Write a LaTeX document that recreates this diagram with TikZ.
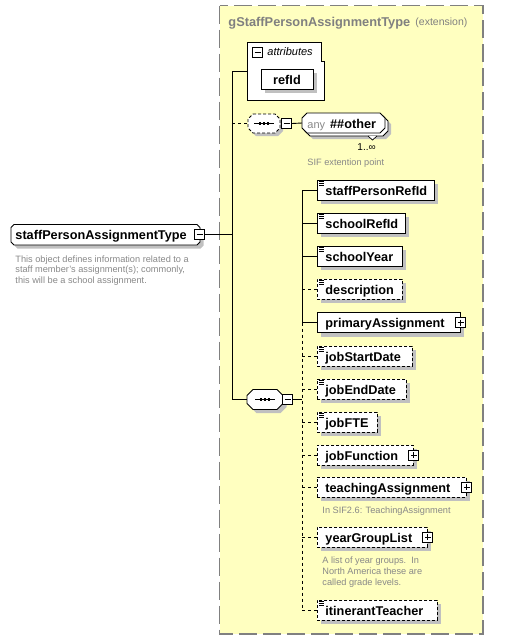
\documentclass[tikz,border=0pt]{standalone}
\usepackage{fontspec}
\setmainfont{Liberation Sans}
\usetikzlibrary{calc,shadows}
\definecolor{bgyellow}{RGB}{255,255,192}
\definecolor{shadowgray}{RGB}{192,192,192}
\definecolor{titlegray}{RGB}{128,128,128}
\definecolor{notegray}{RGB}{136,136,136}
\newcommand\fElem{\fontsize{12.7}{14}\selectfont\bfseries}
\newcommand\fNote{\fontsize{9.2}{10.8}\selectfont}
\newcommand\chpath[5]{(#1+#5,#2) -- (#3-#5,#2) -- (#3,#2+#5) -- (#3,#4-#5) -- (#3-#5,#4) -- (#1+#5,#4) -- (#1,#4-#5) -- (#1,#2+#5) -- cycle}
\newcommand\elicon[1]{\draw[line width=0.5pt] ([xshift=1.8pt,yshift=-1.6pt]#1.north west) -- ++(5.5,0) ([xshift=1.8pt,yshift=-3.6pt]#1.north west) -- ++(5.5,0) ([xshift=1.8pt,yshift=-5.6pt]#1.north west) -- ++(5.5,0);}
\begin{document}
\begin{tikzpicture}[x=1pt,y=-1pt,line width=0.9pt,
  elem/.style={draw, fill=white, anchor=west, inner xsep=8pt, inner ysep=0pt, minimum height=20pt, text height=11pt, text depth=1pt, align=left, font=\fElem, drop shadow={shadow xshift=4pt, shadow yshift=-4pt, fill=shadowgray, opacity=1}},
  opt/.style={dash pattern=on 3pt off 2pt},
  dconn/.style={dash pattern=on 3pt off 3pt},
  pmbox/.style={draw, fill=white, minimum size=10pt, inner sep=0pt, line width=0.9pt},
  minusbox/.style={pmbox, path picture={\draw[line width=0.9pt] ([xshift=2pt]path picture bounding box.west) -- ([xshift=-2pt]path picture bounding box.east);}},
  plusbox/.style={pmbox, path picture={\draw[line width=0.9pt] ([xshift=2pt]path picture bounding box.west) -- ([xshift=-2pt]path picture bounding box.east) ([yshift=-2pt]path picture bounding box.north) -- ([yshift=2pt]path picture bounding box.south);}},
  lbl/.style={inner sep=0pt, anchor=base west},
  note/.style={inner sep=0pt, anchor=north west, align=left, font=\fNote, text=notegray}
]
\useasboundingbox (0,0) rectangle (518,641);
% group box
\draw[fill=bgyellow, draw=titlegray, line width=1.4pt, dash pattern=on 18pt off 6pt] (219.5,5.5) rectangle (483,634);
\node[lbl, font=\fontsize{12.8}{15}\selectfont\bfseries, text=titlegray] (title) at (228,26.5) {gStaffPersonAssignmentType};
\node[lbl, font=\fontsize{10.5}{12}\selectfont, text=titlegray] (ext) at (415,25.5) {(extension)};

% left complex type node
\fill[shadowgray] \chpath{14.5}{228}{203.5}{248.5}{3};
\draw[fill=white] \chpath{11}{224.5}{200}{245}{3};
\node[anchor=west, inner xsep=4pt, inner ysep=0pt, minimum height=20.5pt, text width=181pt, text height=11pt, text depth=1pt, align=left, font=\fElem] (spat) at (11,234.75) {staffPersonAssignmentType};
\node[minusbox] (spatx) at (199.5,234.5) {};
\node[note] (spatnote) at (15,255) {This object defines information related to a\\staff member’s assignment(s); commonly,\\this will be a school assignment.};

% attributes
\draw[fill=white] (247,42) -- (321,42) -- (321,61) -- (324,61) -- (324,100) -- (247,100) -- cycle;
\node[minimum width=77pt, minimum height=58pt, inner sep=0pt] (attrs) at (285.5,71) {};
\node[minusbox] (attrsx) at (257.5,52) {};
\node[lbl, font=\fontsize{11}{13}\selectfont\itshape] (attrlbl) at (267,55) {attributes};
\node[draw, fill=white, minimum width=52pt, minimum height=20pt, inner sep=0pt, text height=11pt, text depth=1pt, font=\fElem, drop shadow={shadow xshift=4pt, shadow yshift=-4pt, fill=shadowgray, opacity=1}] (refid) at (287,79.3) {refId};

% any ##other sequence
\fill[shadowgray] \chpath{251}{117}{283}{136}{5};
\draw[fill=white, dash pattern=on 3pt off 2pt] \chpath{248}{114}{280}{133}{5};
\node[minimum width=32pt, minimum height=19pt, inner sep=0pt] (anyseq) at (264,123.5) {};
\draw[line width=0.8pt] (254,123.5) -- (274,123.5);
\foreach \dx in {260,264,268} \fill (\dx-1.3,122.2) rectangle ++(2.6,2.6);
\node[minusbox] (anyseqx) at (286.5,123.5) {};
\fill[shadowgray] \chpath{308}{119}{391}{139}{5};
\draw[fill=white] \chpath{305}{116}{388}{136}{5};
\draw[fill=white, line width=0.7pt] (368,136) -- (372.5,140) -- (377,136);
\draw[fill=white] \chpath{302}{113}{385}{133}{5};
\node[anchor=west, inner xsep=5pt, inner ysep=0pt, minimum height=20pt, text width=73pt, text height=11pt, text depth=1pt, align=left, font=\fElem] (any) at (302,123) {{\mdseries\fontsize{11}{13}\selectfont\color{notegray}any}\hspace{5pt}\#\#other};
\node[lbl, font=\fontsize{10}{12}\selectfont] (mult) at (357,150.7) {1..∞};
\node[lbl, font=\fNote, text=notegray] (anynote) at (307,165.7) {SIF extention point};

% main sequence
\fill[shadowgray] \chpath{250.5}{393}{286.5}{413}{6};
\draw[fill=white] \chpath{247}{389.5}{283}{409.5}{6};
\node[minimum width=36pt, minimum height=20pt, inner sep=0pt] (seq) at (265,399.5) {};
\draw[line width=0.8pt] (255,399.5) -- (275,399.5);
\foreach \dx in {261,265,269} \fill (\dx-1.3,398.2) rectangle ++(2.6,2.6);
\node[minusbox] (seqx) at (287.5,399.5) {};

% elements
\node[elem, text width=101pt] (e1) at (317,190) {staffPersonRefId};
\node[elem, text width=72pt] (e2) at (317,223) {schoolRefId};
\node[elem, text width=69pt] (e3) at (317,256) {schoolYear};
\node[elem, opt, text width=69pt] (e4) at (317,289) {description};
\node[elem, text width=127pt] (e5) at (317,322.5) {primaryAssignment};
\node[elem, opt, text width=79pt] (e6) at (317,356) {jobStartDate};
\node[elem, opt, text width=73pt] (e7) at (317,389) {jobEndDate};
\node[elem, opt, text width=44pt] (e8) at (317,422) {jobFTE};
\node[elem, opt, text width=80pt] (e9) at (317,455) {jobFunction};
\node[elem, opt, text width=133pt] (e10) at (317,487) {teachingAssignment};
\node[elem, opt, text width=94pt] (e11) at (317,537) {yearGroupList};
\node[elem, opt, text width=104pt] (e12) at (317,610) {itinerantTeacher};
\foreach \n in {e1,e2,e3,e4,e6,e7,e8,e12} {\elicon{\n}}
\foreach \n in {e5,e9,e10,e11} {\node[plusbox] (\n x) at (\n.east) {};}
\node[lbl, font=\fNote, text=notegray] (tanote) at (322,513) {In SIF2.6: TeachingAssignment};
\node[note] (ygnote) at (322,556.6) {A list of year groups.\ \ In\\North America these are\\called grade levels.};

% connectors
\coordinate (tTop) at (232,71);
\coordinate (tBot) at (232,399.5);
\coordinate (eTop) at (302,190);
\coordinate (ePA) at (302,322.5);
\coordinate (eBot) at (302,610);
\draw (spatx.east) -- (spatx.east -| tTop);
\draw (tTop) -- (tBot);
\draw (tTop) -- (attrs.west);
\draw[dconn] (anyseq.west -| tTop) -- (anyseq.west);
\draw (anyseqx.east) -- (any.west);
\draw (tBot) -- (seq.west);
\draw (seqx.east) -- (seqx.east -| eTop);
\draw (eTop) -- (ePA);
\draw[dconn] (ePA) -- (eBot);
\foreach \n in {e1,e2,e3,e5} {\draw (\n.west -| eTop) -- (\n.west);}
\foreach \n in {e4,e6,e7,e8,e9,e10,e11,e12} {\draw[dconn] (\n.west -| eTop) -- (\n.west);}
\end{tikzpicture}
\end{document}
